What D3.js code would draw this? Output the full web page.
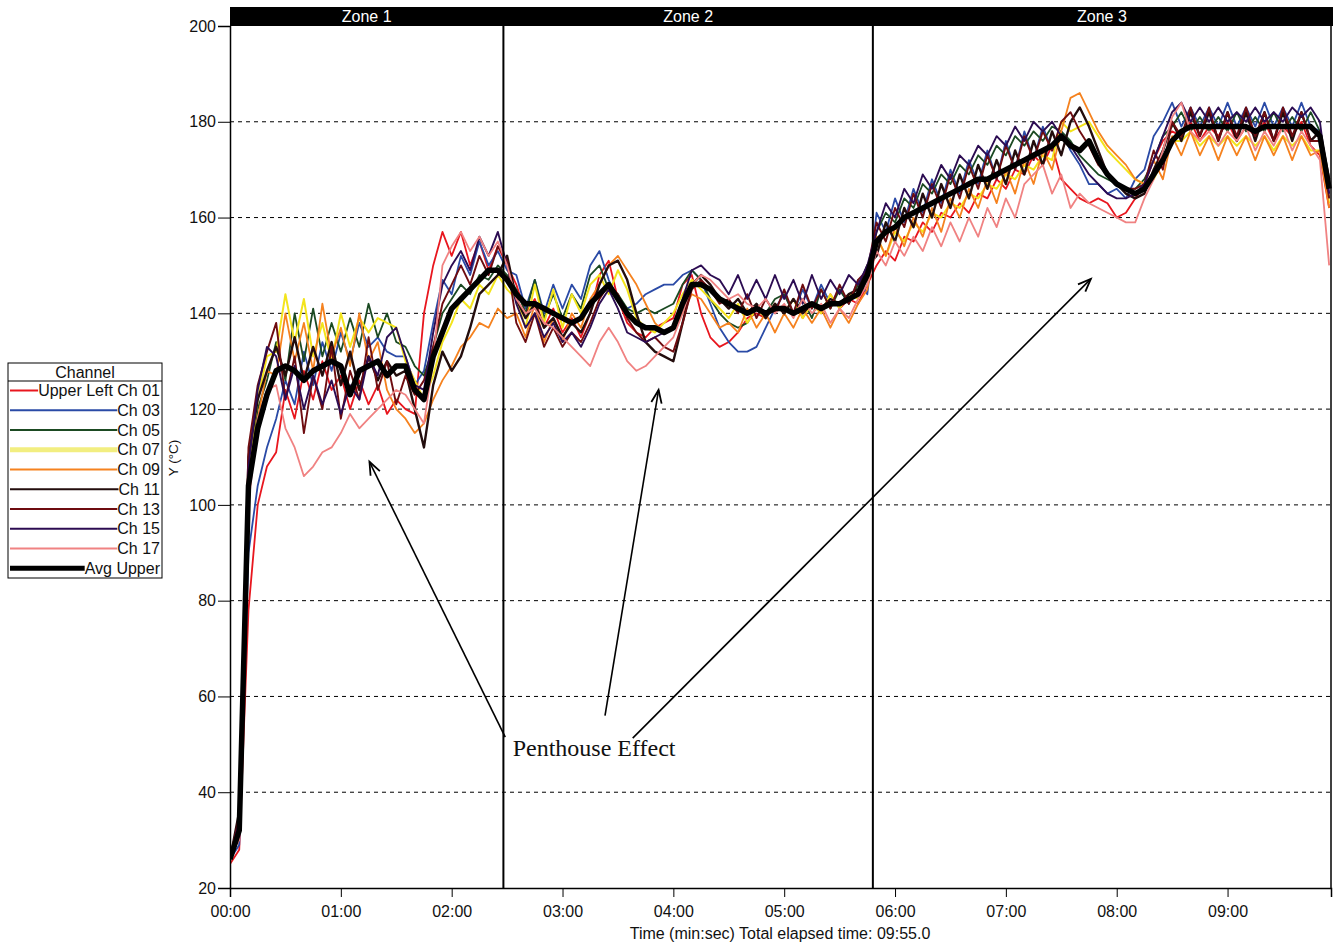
<!DOCTYPE html>
<html>
<head>
<meta charset="utf-8">
<script src="https://cdn.jsdelivr.net/npm/d3@7/dist/d3.min.js"></script>
<style>
  html, body { margin: 0; padding: 0; background: #fff; }
  svg { display: block; font-family: Arial, "Liberation Sans", sans-serif; }
</style>
</head>
<body>
<svg id="chart" width="1336" height="946"></svg>
<script>
// Sample times (seconds), one reading every 5 s over the 09:55 test
const sampleTimes = d3.range(0, 600, 5);

// Upper-layer thermocouple readings (°C)
const ch01 = [25,28,78,100,108,
  111,124,118,128,122,130,124,127,120,126,121,125,119,122,120,119,
  140,150,157,152,157,150,155,149,154,150,
  146,140,143,137,141, 136,139,135,140,148,151, 143,138,136,135,137,138,
  139,146,148,140,135,133, 134,136,139,140,139,142, 140,143,139,142,140,144, 141,143,142,146,
  150,153,151,156,155,159,157,161,160,163, 161,165,164,168,166,170,169,173,171,175,
  168,166,164,163,164,163,160,161,164,167, 172,176,178,177,180,176,179,177,180,176,
  179,177,180,176,179,177,180,175,173,162];
const ch03 = [26,29,90,104,112,
  118,126,121,132,125,134,128,136,130,138,133,135,132,131,131,125,
  128,138,147,144,152,148,155,150,153,149,
  148,141,147,140,146, 141,146,143,150,153,147, 143,141,142,144,145,146,
  146,148,149,147,142,137, 134,132,132,133,137,141, 144,140,145,141,146,142, 145,142,147,144,
  161,157,164,159,166,161,168,163,170,165, 172,167,174,168,176,170,178,172,179,174,
  178,174,171,167,167,165,166,164,168,170, 177,180,184,179,183,179,183,179,184,179,
  183,179,184,179,183,179,184,179,178,165];
const ch05 = [26,34,106,120,126,
  134,126,140,130,141,131,138,132,139,133,142,135,140,134,133,129,
  127,133,140,143,146,144,148,147,150,148,
  145,140,147,139,144, 139,144,141,148,150,145, 144,141,140,141,140,141,
  142,146,149,147,143,140, 138,137,138,141,140,143, 144,140,143,139,145,141, 145,142,146,147,
  157,161,159,164,162,167,165,169,167,171, 169,173,171,175,173,177,175,178,176,179,
  178,176,173,171,169,168,167,166,166,168, 172,177,179,182,178,181,178,181,178,182,
  178,181,178,182,178,181,178,182,178,164];
const ch07 = [26,33,108,122,131,
  132,144,134,143,131,138,130,140,133,139,136,139,138,137,130,126,
  122,127,134,138,143,141,146,144,148,145,
  143,137,146,138,145, 137,144,140,146,148,144, 149,145,139,137,136,138,
  140,144,147,145,143,141, 139,142,138,141,139,142, 140,143,139,142,140,144, 141,144,143,148,
  156,152,157,155,159,157,161,160,163,162, 165,164,167,166,169,168,171,170,173,172,
  180,178,179,180,177,174,172,170,168,167, 168,172,176,176,178,175,177,175,177,175,
  177,175,177,174,177,175,177,174,174,163];
const ch09 = [26,32,106,118,128,
  127,140,130,138,128,142,131,137,129,140,130,134,124,120,118,115,
  117,122,126,129,133,135,138,137,141,139,
  140,135,142,134,139, 134,140,137,143,146,150, 152,149,146,142,138,136,
  137,140,144,143,140,137, 138,136,141,137,140,136, 140,137,141,138,141,137, 141,138,142,145,
  156,152,158,154,160,156,162,157,164,160, 166,162,168,163,170,165,172,167,174,170,
  178,185,186,182,178,175,173,171,168,167, 172,168,177,173,178,173,177,172,177,173,
  177,172,177,173,177,172,177,173,174,162];
const ch11 = [26,36,110,122,128,
  133,127,135,126,133,127,134,125,132,124,131,126,130,127,128,120,
  112,125,132,128,131,137,144,146,148,152,
  143,139,142,137,139, 135,138,136,140,146,150, 151,147,140,134,132,131,
  130,138,146,148,146,143, 141,143,140,142,139,142, 140,143,140,142,141,143, 142,144,145,150,
  152,159,155,162,158,165,160,167,162,169, 164,171,166,172,167,174,169,176,171,178,
  173,180,183,179,174,169,167,165,164,165, 170,174,180,176,182,177,182,176,182,176,
  182,176,182,176,182,176,182,176,178,168];
const ch13 = [26,35,112,125,132,
  138,122,131,115,127,120,133,118,128,122,135,124,130,121,127,123,
  126,133,142,146,150,146,152,148,154,151,
  138,134,140,133,137, 133,136,134,138,143,146, 144,139,136,134,135,133,
  132,138,145,147,145,142, 143,140,144,139,143,140, 145,140,146,141,145,141, 146,142,147,149,
  159,155,162,158,165,160,167,162,169,164, 171,166,173,168,175,170,177,172,178,174,
  180,182,178,175,171,169,167,166,166,167, 174,170,180,177,183,177,183,176,182,177,
  183,177,182,176,183,177,182,176,176,164];
const ch15 = [26,34,108,124,133,
  131,122,129,120,127,121,126,119,125,122,131,127,135,137,131,125,
  124,136,146,150,153,149,156,152,157,150,
  142,137,140,135,138, 134,136,133,137,142,145, 141,136,135,134,135,136,
  137,143,149,150,148,147, 144,148,143,147,143,148, 143,147,142,148,143,147, 144,148,146,150,
  157,163,160,166,163,169,166,171,168,173, 171,175,173,177,175,179,176,180,178,180,
  177,175,172,169,167,165,164,164,165,167, 172,177,182,184,180,183,180,183,180,182,
  180,183,180,182,180,183,181,183,180,165];
const ch17 = [27,30,100,118,124,
  125,116,112,106,108,111,112,115,119,116,118,120,122,124,123,120,
  117,130,150,154,157,153,156,152,155,150,
  143,140,141,138,137, 135,133,131,129,134,137, 134,130,128,129,131,133,
  135,140,146,148,147,145, 143,144,142,141,143,140, 142,139,143,140,142,138, 141,139,143,146,
  153,150,155,152,156,153,158,154,159,155, 160,156,162,158,164,160,167,169,171,165,
  169,162,165,163,162,161,160,159,159,164, 168,174,181,184,178,176,178,175,178,176,
  179,174,178,175,179,174,178,175,172,150];
const avgUpper = [26,32,104,116,123,128,129,128,126,128,129,130,
  129,123,128,129,130,127,129,129,124,122,131,136,
  141,143,145,147,149,149,147,144,142,142,141,140,
  139,138,139,142,144,146,143,140,138,137,137,136,
  137,142,146,146,145,143,142,141,140,141,140,141,
  141,140,141,142,141,142,142,143,144,148,155,157,
  158,160,161,162,163,164,165,166,167,168,168,169,
  170,171,172,173,174,175,177,175,174,176,172,169,
  167,166,165,166,169,172,176,178,179,179,179,179,
  179,179,179,178,179,179,179,179,179,179,177,166];

const channelNames = ["Upper Left Ch 01","Ch 03","Ch 05","Ch 07","Ch 09","Ch 11","Ch 13","Ch 15","Ch 17","Avg Upper"];
const channelValues = [ch01, ch03, ch05, ch07, ch09, ch11, ch13, ch15, ch17, avgUpper];
const channelColors = ["#e8161e","#2a4aa6","#1b4a22","#f3e41c","#f5821f","#230d0d","#6e0c10","#2c0c52","#f08282","#000000"];
const channelWidths = [1.8,1.8,1.8,2,1.8,2.4,1.9,1.9,1.8,5.5];
const legendColors = ["#e8161e","#2a4aa6","#1b4a22","#f2ee80","#f5821f","#230d0d","#6e0c10","#2c0c52","#f08282","#000000"];
const legendWidths = [2,2,2,5,2,2,2,2,2,5];

// Zones (boundaries in seconds) and axis ticks
const zoneNames = ["Zone 1","Zone 2","Zone 3"];
const zoneEdges = [0, 148, 348, 596];
const yTicks = [20,40,60,80,100,120,140,160,180,200];
const gridValues = [40,60,80,100,120,140,160,180];
const xTicks = [0,60,120,180,240,300,360,420,480,540];
const xTickLabels = ["00:00","01:00","02:00","03:00","04:00","05:00","06:00","07:00","08:00","09:00"];

// Callout: text anchor and arrows (time s, °C)
const calloutText = {t: 153, v: 47.6, label: "Penthouse Effect"};
const calloutArrows = [
  {t0: 149, v0: 51.5, t1: 75.5, v1: 109},
  {t0: 203, v0: 56, t1: 232, v1: 124},
  {t0: 218, v0: 51.3, t1: 466, v1: 147.2}
];

const FONT = "Arial, 'Liberation Sans', sans-serif";
const svg = d3.select("#chart");
const plotLeft = 230, plotRight = 1331, plotTop = 26, plotBottom = 888;

const x = d3.scaleLinear().domain([0, 596]).range([plotLeft, plotRight]);
const y = d3.scaleLinear().domain([20, 200]).range([plotBottom, plotTop]);

svg.append("defs").append("clipPath").attr("id", "plotClip")
  .append("rect").attr("x", plotLeft).attr("y", plotTop)
  .attr("width", plotRight - plotLeft + 1).attr("height", plotBottom - plotTop);

// Horizontal dashed grid
svg.append("g").selectAll("line").data(gridValues).join("line")
  .attr("x1", plotLeft).attr("x2", plotRight)
  .attr("y1", d => y(d)).attr("y2", d => y(d))
  .attr("stroke", "#000").attr("stroke-width", 1).attr("stroke-dasharray", "4,4");

// Channel traces, average drawn heavy on top
const trace = d3.line()
  .x((d, i) => x(sampleTimes[i]))
  .y(d => y(d));

const traces = svg.append("g").attr("clip-path", "url(#plotClip)");
channelValues.forEach((vals, k) => {
  traces.append("path")
    .datum(vals)
    .attr("fill", "none")
    .attr("stroke", channelColors[k])
    .attr("stroke-width", channelWidths[k])
    .attr("stroke-linejoin", "round")
    .attr("d", trace);
});

// Zone dividers
svg.append("g").selectAll("line").data(zoneEdges.slice(1, 3)).join("line")
  .attr("x1", d => x(d)).attr("x2", d => x(d))
  .attr("y1", plotTop).attr("y2", plotBottom)
  .attr("stroke", "#000").attr("stroke-width", 2);

// Zone header band
svg.append("rect").attr("x", plotLeft).attr("y", 7)
  .attr("width", plotRight - plotLeft + 2).attr("height", plotTop - 7).attr("fill", "#000");
svg.append("g").selectAll("text").data(zoneNames).join("text")
  .attr("x", (d, i) => (x(zoneEdges[i]) + x(zoneEdges[i + 1])) / 2)
  .attr("y", 22)
  .attr("text-anchor", "middle")
  .attr("fill", "#fff")
  .attr("font-size", 16)
  .text(d => d);

// Right border of the plot frame
svg.append("line").attr("x1", plotRight).attr("x2", plotRight).attr("y1", plotTop).attr("y2", plotBottom)
  .attr("stroke", "#000").attr("stroke-width", 1.5);

// Axes
const yAxis = svg.append("g").attr("transform", `translate(${plotLeft},0)`)
  .call(d3.axisLeft(y).tickValues(yTicks).tickSize(12).tickPadding(2).tickFormat(d3.format("d")));
yAxis.select(".domain").attr("stroke", "#000").attr("stroke-width", 1.5);
yAxis.selectAll("text").attr("font-size", 16).attr("fill", "#111").attr("font-family", FONT);

const xAxis = svg.append("g").attr("transform", `translate(0,${plotBottom})`)
  .call(d3.axisBottom(x).tickValues(xTicks).tickSize(9).tickPadding(9).tickFormat((d, i) => xTickLabels[i]));
xAxis.select(".domain").attr("stroke", "#000").attr("stroke-width", 1.5);
xAxis.selectAll("text").attr("font-size", 16).attr("fill", "#111").attr("font-family", FONT);

svg.append("text").attr("x", 780).attr("y", 939).attr("text-anchor", "middle")
  .attr("font-size", 16).attr("fill", "#111")
  .text("Time (min:sec) Total elapsed time: 09:55.0");

svg.append("text").attr("transform", "translate(178,458) rotate(-90)")
  .attr("text-anchor", "middle").attr("font-size", 13.5).attr("fill", "#111")
  .text("Y (°C)");

// Legend
const lg = svg.append("g").attr("transform", "translate(8,363)");
lg.append("rect").attr("width", 154).attr("height", 215)
  .attr("fill", "#fff").attr("stroke", "#000").attr("stroke-width", 1);
lg.append("line").attr("x1", 0).attr("x2", 154).attr("y1", 18).attr("y2", 18).attr("stroke", "#000");
lg.append("text").attr("x", 77).attr("y", 14.5).attr("text-anchor", "middle")
  .attr("font-size", 16).attr("fill", "#111").text("Channel");
channelNames.forEach((name, k) => {
  const cy = 27.5 + k * 19.75;
  const t = lg.append("text").attr("x", 152).attr("y", cy + 5.5).attr("text-anchor", "end")
    .attr("font-size", 16).attr("fill", "#111").text(name);
  const w = t.node().getComputedTextLength();
  lg.append("line").attr("x1", 2).attr("x2", 152 - w).attr("y1", cy).attr("y2", cy)
    .attr("stroke", legendColors[k]).attr("stroke-width", legendWidths[k]);
});

// Callout arrows with open heads
const ca = svg.append("g");
calloutArrows.forEach(a => {
  const x0 = x(a.t0), y0 = y(a.v0), x1 = x(a.t1), y1 = y(a.v1);
  ca.append("line").attr("x1", x0).attr("y1", y0).attr("x2", x1).attr("y2", y1)
    .attr("stroke", "#000").attr("stroke-width", 1.6);
  const ang = Math.atan2(y1 - y0, x1 - x0);
  const L = 14, spread = 0.38;
  const p1 = [x1 - L * Math.cos(ang - spread), y1 - L * Math.sin(ang - spread)];
  const p2 = [x1 - L * Math.cos(ang + spread), y1 - L * Math.sin(ang + spread)];
  ca.append("path").attr("d", `M${p1[0]},${p1[1]}L${x1},${y1}L${p2[0]},${p2[1]}`)
    .attr("fill", "none").attr("stroke", "#000").attr("stroke-width", 1.8);
});
ca.append("text").attr("x", x(calloutText.t)).attr("y", y(calloutText.v))
  .attr("font-family", "'Liberation Serif', 'DejaVu Serif', serif")
  .attr("font-size", 24).attr("fill", "#111")
  .text(calloutText.label);
</script>
</body>
</html>
